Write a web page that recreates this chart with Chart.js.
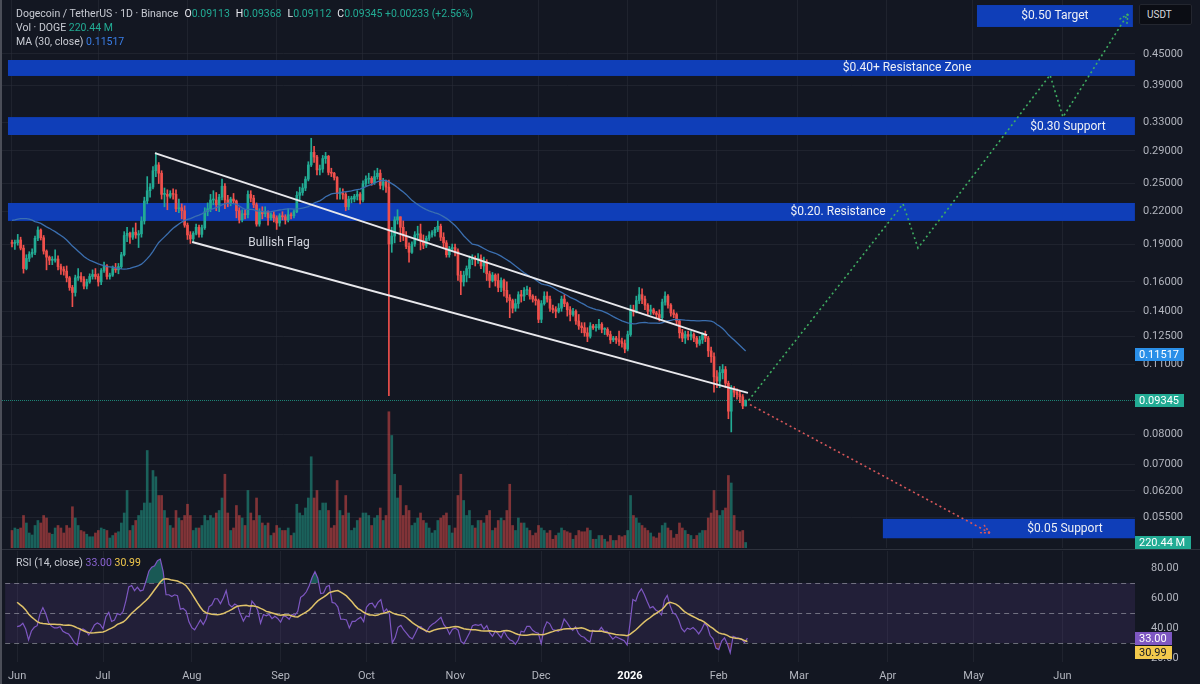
<!DOCTYPE html>
<html>
<head>
<meta charset="utf-8">
<title>Dogecoin / TetherUS 1D</title>
<script src="https://cdn.jsdelivr.net/npm/chart.js@4.4.1/dist/chart.umd.min.js"></script>
<style>
  html, body { margin: 0; padding: 0; background: #131722; }
  body { width: 1200px; height: 684px; position: relative; overflow: hidden; font-family: Roboto, "Noto Sans", sans-serif; }
  .pane { position: absolute; left: 0; width: 1200px; }
  #pricePane { top: 0; height: 550px; }
  #rsiPane { top: 550px; height: 134px; }
  .legend { position: absolute; left: 16px; font-size: 10.5px; line-height: 14px; color: #c8cbd3; white-space: nowrap; }
  .legend b { font-weight: normal; color: #e6e8ee; margin-left: 6px; }
  .up { color: #22ab94; }
  .ma { color: #3a7ee8; }
  .rsi { color: #8a63d2; }
  .rsima { color: #f2c94c; }
  #usdt { position: absolute; left: 1139px; top: 4px; width: 53px; height: 21px; box-sizing: border-box; background: #0b0d14; border: 1px solid #23262f; border-radius: 2px; color: #d6d8de; font-size: 10px; line-height: 19px; padding-left: 7px; }
  #sep { position: absolute; left: 0; top: 549px; width: 1200px; height: 1px; background: #2e323d; }
  #edge { position: absolute; left: 0; top: 0; width: 2px; height: 684px; background: #4b4e58; }
</style>
</head>
<body>
<div id="pricePane" class="pane"><canvas id="priceCanvas"></canvas></div>
<div id="rsiPane" class="pane"><canvas id="rsiCanvas"></canvas></div>
<div id="sep"></div>
<div id="edge"></div>
<div class="legend" style="top:7px">Dogecoin / TetherUS · 1D · Binance<b>O</b><span class="up">0.09113</span><b>H</b><span class="up">0.09368</span><b>L</b><span class="up">0.09112</span><b>C</b><span class="up">0.09345</span> <span class="up">+0.00233 (+2.56%)</span></div>
<div class="legend" style="top:21px">Vol · DOGE <span class="up">220.44 M</span></div>
<div class="legend" style="top:35px">MA (30, close) <span class="ma">0.11517</span></div>
<div class="legend" style="top:556px">RSI (14, close) <span class="rsi">33.00</span> <span class="rsima">30.99</span></div>
<div id="usdt">USDT</div>
<script>
// daily closes of May 2025, only used to warm up MA(30) and RSI(14)
const warmupCloses = [
  0.1800,0.1790,0.1750,0.1720,0.1700,0.1740,0.1760,0.1980,0.2080,0.2380,
  0.2280,0.2210,0.2330,0.2270,0.2180,0.2240,0.2220,0.2250,0.2200,0.2210,
  0.2290,0.2370,0.2310,0.2270,0.2300,0.2260,0.2220,0.2120,0.2050,0.1930,
  0.1910
];

// visible candles, 1 Jun 2025 (day 0) .. 11 Feb 2026 (day 255)
const closes = [
  0.1905,0.1912,0.1935,0.1865,0.1700,0.1780,0.1815,0.1830,0.1950,0.2025,
  0.1955,0.1840,0.1790,0.1765,0.1765,0.1775,0.1715,0.1695,0.1680,0.1630,
  0.1560,0.1525,0.1630,0.1640,0.1620,0.1570,0.1600,0.1640,0.1655,0.1640,
  0.1600,0.1685,0.1720,0.1640,0.1650,0.1700,0.1690,0.1715,0.1810,0.1975,
  0.1995,0.1960,0.2005,0.1980,0.1990,0.2110,0.2310,0.2420,0.2460,0.2650,
  0.2720,0.2620,0.2380,0.2380,0.2360,0.2390,0.2380,0.2230,0.2240,0.2210,
  0.2070,
  0.1980,0.1945,0.1995,0.2050,0.1985,0.2045,0.2200,0.2230,0.2320,0.2320,
  0.2270,0.2350,0.2470,0.2320,0.2290,0.2330,0.2310,0.2210,0.2120,0.2180,
  0.2170,0.2380,0.2340,0.2270,0.2080,0.2200,0.2180,0.2200,0.2140,0.2170,
  0.2140,
  0.2090,0.2160,0.2150,0.2120,0.2170,0.2160,0.2200,0.2370,0.2400,0.2450,
  0.2550,0.2720,0.2880,0.2820,0.2660,0.2670,0.2800,0.2830,0.2630,0.2620,
  0.2570,0.2390,0.2390,0.2380,0.2250,0.2330,0.2330,0.2360,0.2380,0.2320,
  0.2500,0.2550,0.2560,0.2510,0.2580,0.2620,0.2480,0.2520,0.2460,0.1900,
  0.1970,0.2120,0.2150,0.2050,0.1970,0.1880,0.1830,0.1900,0.1980,0.1990,
  0.1930,0.1890,0.1950,0.1980,0.2000,0.2030,0.2060,0.1960,0.1910,0.1810,
  0.1860,
  0.1870,0.1840,0.1650,0.1600,0.1650,0.1700,0.1770,0.1780,0.1770,0.1780,
  0.1720,0.1750,0.1660,0.1610,0.1650,0.1610,0.1560,0.1610,0.1540,0.1490,
  0.1470,0.1420,0.1450,0.1510,0.1500,0.1540,0.1540,0.1500,0.1480,0.1470,
  0.1350,0.1450,0.1500,0.1480,0.1420,0.1410,0.1400,0.1420,0.1480,0.1450,
  0.1410,0.1380,0.1400,0.1340,0.1310,0.1300,0.1270,0.1250,0.1310,0.1300,
  0.1300,0.1320,0.1290,0.1290,0.1260,0.1230,0.1240,0.1230,0.1220,0.1210,
  0.1180,
  0.1260,0.1410,0.1400,0.1470,0.1510,0.1480,0.1440,0.1400,0.1410,0.1390,
  0.1380,0.1360,0.1460,0.1500,0.1440,0.1390,0.1380,0.1340,0.1270,0.1240,
  0.1260,0.1250,0.1260,0.1240,0.1210,0.1230,0.1260,0.1240,0.1170,0.1140,
  0.1040,
  0.1020,0.1060,0.1075,0.1010,0.0890,0.0985,0.0970,0.0960,0.0950,0.09113,
  0.09345
];

const highs = [
  0.1935,0.1935,0.1985,0.1960,0.1890,0.1810,0.1835,0.1860,0.1970,0.2055,
  0.2035,0.1975,0.1850,0.1800,0.1795,0.1850,0.1800,0.1735,0.1715,0.1720,
  0.1640,0.1575,0.1650,0.1700,0.1670,0.1640,0.1620,0.1660,0.1690,0.1700,
  0.1660,0.1700,0.1750,0.1730,0.1665,0.1720,0.1740,0.1740,0.1830,0.2010,
  0.2050,0.2005,0.2045,0.2090,0.2020,0.2150,0.2350,0.2580,0.2500,0.2700,
  0.2875,0.2750,0.2650,0.2450,0.2430,0.2420,0.2440,0.2430,0.2330,0.2280,
  0.2260,
  0.2090,0.2010,0.2010,0.2080,0.2070,0.2070,0.2240,0.2290,0.2380,0.2420,
  0.2400,0.2380,0.2550,0.2500,0.2370,0.2350,0.2390,0.2320,0.2240,0.2220,
  0.2220,0.2420,0.2420,0.2370,0.2290,0.2230,0.2250,0.2250,0.2210,0.2190,
  0.2200,
  0.2160,0.2180,0.2200,0.2170,0.2230,0.2190,0.2220,0.2410,0.2460,0.2500,
  0.2580,0.2760,0.3070,0.2960,0.2840,0.2720,0.2840,0.2880,0.2840,0.2680,
  0.2630,0.2580,0.2450,0.2440,0.2400,0.2360,0.2360,0.2380,0.2420,0.2400,
  0.2530,0.2590,0.2620,0.2580,0.2650,0.2680,0.2660,0.2560,0.2540,0.2540,
  0.2050,0.2150,0.2220,0.2150,0.2110,0.2010,0.1910,0.1920,0.2010,0.2060,
  0.2080,0.1980,0.1970,0.2010,0.2020,0.2050,0.2110,0.2080,0.2000,0.1930,
  0.1880,
  0.1900,0.1900,0.1860,0.1680,0.1680,0.1720,0.1800,0.1810,0.1800,0.1820,
  0.1810,0.1790,0.1770,0.1680,0.1670,0.1660,0.1660,0.1630,0.1620,0.1600,
  0.1510,0.1480,0.1480,0.1530,0.1540,0.1560,0.1570,0.1560,0.1510,0.1500,
  0.1480,0.1470,0.1530,0.1530,0.1500,0.1440,0.1430,0.1450,0.1500,0.1510,
  0.1460,0.1430,0.1420,0.1410,0.1380,0.1330,0.1330,0.1300,0.1330,0.1320,
  0.1320,0.1350,0.1330,0.1300,0.1300,0.1280,0.1250,0.1250,0.1280,0.1240,
  0.1230,
  0.1280,0.1440,0.1440,0.1500,0.1560,0.1550,0.1500,0.1450,0.1440,0.1420,
  0.1400,0.1410,0.1480,0.1530,0.1510,0.1450,0.1410,0.1390,0.1350,0.1290,
  0.1280,0.1280,0.1280,0.1270,0.1250,0.1250,0.1270,0.1280,0.1250,0.1190,
  0.1160,
  0.1070,0.1090,0.1100,0.1090,0.1020,0.1000,0.0995,0.0985,0.0975,0.0960,
  0.09368
];

const lows = [
  0.1875,0.1855,0.1890,0.1850,0.1665,0.1690,0.1755,0.1790,0.1810,0.1930,
  0.1935,0.1815,0.1690,0.1730,0.1730,0.1750,0.1690,0.1655,0.1650,0.1600,
  0.1540,0.1430,0.1500,0.1610,0.1600,0.1550,0.1550,0.1590,0.1620,0.1620,
  0.1570,0.1580,0.1670,0.1620,0.1620,0.1640,0.1670,0.1660,0.1700,0.1800,
  0.1920,0.1905,0.1940,0.1950,0.1870,0.1960,0.2080,0.2280,0.2350,0.2440,
  0.2580,0.2500,0.2330,0.2250,0.2220,0.2340,0.2330,0.2200,0.2190,0.2130,
  0.2050,
  0.1940,0.1905,0.1920,0.1980,0.1960,0.1960,0.2030,0.2160,0.2200,0.2270,
  0.2210,0.2200,0.2320,0.2230,0.2250,0.2260,0.2290,0.2140,0.2090,0.2100,
  0.2130,0.2140,0.2300,0.2240,0.2060,0.2060,0.2130,0.2150,0.2070,0.2120,
  0.2100,
  0.2030,0.2060,0.2120,0.2080,0.2100,0.2130,0.2140,0.2190,0.2320,0.2370,
  0.2420,0.2530,0.2700,0.2750,0.2600,0.2600,0.2630,0.2740,0.2600,0.2580,
  0.2540,0.2330,0.2330,0.2330,0.2210,0.2220,0.2290,0.2300,0.2320,0.2280,
  0.2300,0.2470,0.2500,0.2480,0.2490,0.2550,0.2440,0.2430,0.2400,0.0955,
  0.1830,0.1910,0.2080,0.1920,0.1930,0.1860,0.1750,0.1820,0.1880,0.1940,
  0.1850,0.1860,0.1870,0.1930,0.1960,0.1970,0.2010,0.1930,0.1870,0.1790,
  0.1790,
  0.1840,0.1800,0.1610,0.1510,0.1570,0.1600,0.1630,0.1730,0.1720,0.1740,
  0.1700,0.1670,0.1610,0.1560,0.1600,0.1570,0.1530,0.1530,0.1500,0.1460,
  0.1360,0.1390,0.1400,0.1420,0.1460,0.1470,0.1510,0.1480,0.1460,0.1440,
  0.1330,0.1330,0.1440,0.1460,0.1400,0.1390,0.1360,0.1390,0.1400,0.1430,
  0.1370,0.1340,0.1370,0.1320,0.1290,0.1270,0.1250,0.1220,0.1240,0.1290,
  0.1280,0.1290,0.1270,0.1260,0.1250,0.1210,0.1220,0.1210,0.1200,0.1190,
  0.1160,
  0.1170,0.1250,0.1370,0.1390,0.1450,0.1450,0.1410,0.1380,0.1380,0.1380,
  0.1360,0.1340,0.1350,0.1440,0.1420,0.1370,0.1360,0.1320,0.1240,0.1220,
  0.1210,0.1230,0.1230,0.1220,0.1190,0.1200,0.1210,0.1220,0.1140,0.1110,
  0.0970,
  0.0990,0.0990,0.1030,0.0990,0.0860,0.0810,0.0950,0.0940,0.0925,0.0900,
  0.09112
];

// volume in millions of DOGE
const volumes = [
  700,800,750,800,1300,1000,600,520,900,1100,
  1000,1300,1200,600,550,800,900,800,600,900,
  800,1650,1200,900,700,650,550,450,450,600,
  700,800,750,700,400,500,600,650,1000,1400,
  2300,700,900,1100,1300,1500,1800,3900,1800,3100,
  2850,2100,2100,1500,1200,900,800,1500,1200,1100,
  1300,
  1750,1300,700,800,800,900,1300,1100,1300,1200,
  1400,1500,2000,2950,1400,700,800,1700,1300,1200,
  900,2300,1400,1100,2000,1300,1000,900,1000,500,
  600,
  900,800,700,700,800,500,600,1750,1400,1300,
  1600,2000,3650,2000,2300,1500,1800,1800,1500,800,
  900,2700,1500,1300,2100,1400,700,800,1100,1200,
  1400,1400,1300,900,1200,1300,1600,1100,1300,5450,
  4500,2950,2000,2500,1300,1700,1500,900,1000,1200,
  1400,1100,1000,800,600,700,1100,1200,1300,1400,
  900,
  600,800,2100,2950,1900,1300,1500,900,800,1100,
  1100,1000,1300,1500,700,800,1100,1200,1100,1500,
  2550,900,700,1200,1000,1000,800,700,500,600,
  900,800,700,600,700,350,500,600,800,700,
  650,600,350,500,700,650,650,800,700,350,
  350,500,500,350,250,500,300,300,500,450,
  500,
  700,2100,1300,1200,1000,900,800,700,600,450,
  400,600,900,1000,800,700,400,550,1000,800,
  700,550,500,350,500,600,700,700,1200,1400,
  2300,
  1500,1300,1500,1600,2900,2600,1300,700,650,700,
  220.44
];

// time axis (days from 1 Jun 2025)
const monthTicks = [0, 30, 61, 92, 122, 153, 183, 214, 245, 273, 304, 334, 365];
const monthLabels = ['Jun', 'Jul', 'Aug', 'Sep', 'Oct', 'Nov', 'Dec', '2026', 'Feb', 'Mar', 'Apr', 'May', 'Jun'];
const dayMin = -4.17, dayMax = 390.33;

// price axis
const priceTicks = [0.055, 0.062, 0.07, 0.08, 0.11, 0.125, 0.14, 0.16, 0.19, 0.22, 0.25, 0.29, 0.33, 0.39, 0.45];
const priceMin = 0.04784, priceMax = 0.57493;
const volMax = 21920;

// rsi pane
const rsiTicks = [20, 40, 60, 80];
const rsiLevels = [70, 50, 30];
const rsiMin = 17.33, rsiMax = 91.33;

// last values shown in the legend / axis tags
const lastClose = 0.09345, maLast = 0.11517, lastVolume = 220.44, rsiLast = 33.00, rsiMaLast = 30.99;

// drawn zones
const zoneLabels = ['$0.50 Target', '$0.40+ Resistance Zone', '$0.30 Support', '$0.20. Resistance', '$0.05 Support'];
const zoneLow = [0.5087, 0.4073, 0.3116, 0.2110, 0.0500];
const zoneHigh = [0.5620, 0.4379, 0.3380, 0.2289, 0.0546];
const zoneStart = [335.4, -1.4, -1.4, -1.4, 302.7];
const zoneEnd = [389.6, 390.3, 390.3, 390.3, 390.3];
const zoneLabelDay = [362.5, 311.1, 367, 287.1, 366];

// flag channel and projections
const flagUpperDays = [49.7, 241.6], flagUpperPrices = [0.287, 0.1257];
const flagLowerDays = [62.6, 255.8], flagLowerPrices = [0.1917, 0.0967];
const flagLabelDay = 92.8, flagLabelPrice = 0.191;
const bullPathDays = [256, 309.7, 314.9, 360.8, 365.3, 387.9];
const bullPathPrices = [0.09345, 0.2279, 0.1866, 0.409, 0.338, 0.5396];
const bearPathDays = [256.5, 339.9];
const bearPathPrices = [0.0917, 0.0512];

const FONT = 'Roboto, "Noto Sans", sans-serif';
const UP = '#22ab94', DOWN = '#f0504c';
const VOL_UP = 'rgba(34,171,148,0.5)', VOL_DOWN = 'rgba(240,80,76,0.5)';
const GRID = 'rgba(42,46,57,0.55)';
const ZONE_BLUE = '#0f3eb8';
const AXIS_TEXT = '#b2b5be';

Chart.defaults.font.family = FONT;

const W = warmupCloses.length;
const allCloses = warmupCloses.concat(closes);
const days = closes.map((_, d) => d);
// crypto trades 24/7: each daily candle opens at the previous day's close
const opens = days.map(d => allCloses[W + d - 1]);
const candleColors = days.map(d => closes[d] >= opens[d] ? UP : DOWN);

function sma(values, n) {
  return values.map((_, i) => {
    if (i < n - 1) return null;
    let s = 0;
    for (let k = i - n + 1; k <= i; k++) {
      if (values[k] == null) return null;
      s += values[k];
    }
    return s / n;
  });
}

function rsi(values, n) {
  const out = values.map(() => null);
  let g = 0, l = 0;
  for (let i = 1; i <= n; i++) {
    const ch = values[i] - values[i - 1];
    if (ch > 0) g += ch; else l -= ch;
  }
  g /= n; l /= n;
  out[n] = 100 - 100 / (1 + g / l);
  for (let i = n + 1; i < values.length; i++) {
    const ch = values[i] - values[i - 1];
    g = (g * (n - 1) + Math.max(ch, 0)) / n;
    l = (l * (n - 1) + Math.max(-ch, 0)) / n;
    out[i] = l === 0 ? 100 : 100 - 100 / (1 + g / l);
  }
  return out;
}

const ma30 = sma(allCloses, 30).slice(W);
const rsiAll = rsi(allCloses, 14);
const rsi14 = rsiAll.slice(W);
const rsiMa = sma(rsiAll, 14).slice(W);

function xAxis(extra) {
  return Object.assign({
    type: 'linear',
    min: dayMin,
    max: dayMax,
    offset: false,
    afterBuildTicks: ax => { ax.ticks = monthTicks.map(v => ({ value: v })); },
    grid: { color: GRID, drawTicks: false, offset: false },
    border: { display: false }
  }, extra);
}

// fixed-width right axis, no label overhang padding at the ends
function fitRightAxis(ax) {
  ax.width = 65;
  ax.paddingTop = 0;
  ax.paddingBottom = 0;
}

function drawTag(ctx, x, yc, text, bg, fg) {
  ctx.font = '11px ' + FONT;
  const w = Math.ceil(ctx.measureText(text).width) + 9;
  ctx.fillStyle = bg;
  ctx.fillRect(x, Math.round(yc - 6.5), w, 13);
  ctx.fillStyle = fg;
  ctx.textAlign = 'left';
  ctx.textBaseline = 'middle';
  ctx.fillText(text, x + 4, yc + 0.5);
}

// blue boxes with their captions, and the last price line
const zonePlugin = {
  id: 'zones',
  beforeDatasetsDraw(chart) {
    const { ctx, chartArea: a, scales: { x, y } } = chart;
    ctx.save();
    ctx.beginPath();
    ctx.rect(a.left, a.top, a.right - a.left, a.bottom - a.top);
    ctx.clip();
    const yp = Math.round(y.getPixelForValue(lastClose)) + 0.5;
    ctx.strokeStyle = 'rgba(34,171,148,0.75)';
    ctx.lineWidth = 1;
    ctx.setLineDash([1, 1]);
    ctx.beginPath(); ctx.moveTo(a.left, yp); ctx.lineTo(a.right, yp); ctx.stroke();
    ctx.setLineDash([]);
    zoneLabels.forEach((label, i) => {
      const x0 = x.getPixelForValue(zoneStart[i]), x1 = x.getPixelForValue(zoneEnd[i]);
      const y0 = y.getPixelForValue(zoneHigh[i]), y1 = y.getPixelForValue(zoneLow[i]);
      ctx.fillStyle = ZONE_BLUE;
      ctx.fillRect(x0, y0, x1 - x0, y1 - y0);
      ctx.fillStyle = '#eef0f5';
      ctx.font = '12px ' + FONT;
      ctx.textAlign = 'center';
      ctx.textBaseline = 'middle';
      ctx.fillText(label, x.getPixelForValue(zoneLabelDay[i]), (y0 + y1) / 2 + 0.5);
    });
    ctx.restore();
  }
};

// flag caption, arrow heads and right axis tags
const overlayPlugin = {
  id: 'overlay',
  afterDatasetsDraw(chart) {
    const { ctx, scales: { x, y } } = chart;
    ctx.save();
    ctx.fillStyle = '#d1d4dc';
    ctx.font = '12px ' + FONT;
    ctx.textAlign = 'center';
    ctx.textBaseline = 'middle';
    ctx.fillText('Bullish Flag', x.getPixelForValue(flagLabelDay), y.getPixelForValue(flagLabelPrice));
    chart.data.datasets.forEach((ds, i) => {
      if (!ds.arrowHead) return;
      const pts = chart.getDatasetMeta(i).data;
      const a = pts[pts.length - 2], b = pts[pts.length - 1];
      const ang = Math.atan2(b.y - a.y, b.x - a.x);
      ctx.strokeStyle = ds.borderColor;
      ctx.lineWidth = 1.5;
      ctx.setLineDash([2, 2]);
      [-1, 1].forEach(s => {
        ctx.beginPath();
        ctx.moveTo(b.x, b.y);
        ctx.lineTo(b.x - 10 * Math.cos(ang + s * 0.45), b.y - 10 * Math.sin(ang + s * 0.45));
        ctx.stroke();
      });
    });
    ctx.restore();
  },
  afterDraw(chart) {
    const { ctx, chartArea: a, scales: { y, yVol } } = chart;
    ctx.save();
    drawTag(ctx, a.right, y.getPixelForValue(maLast), maLast.toFixed(5), '#2a8fe8', '#ffffff');
    drawTag(ctx, a.right, y.getPixelForValue(lastClose), lastClose.toFixed(5), '#22ab94', '#ffffff');
    drawTag(ctx, a.right, yVol.getPixelForValue(lastVolume), lastVolume.toFixed(2) + ' M', '#22ab94', '#ffffff');
    ctx.restore();
  }
};

new Chart(document.getElementById('priceCanvas'), {
  type: 'line',
  data: {
    datasets: [
      {
        type: 'bar', label: 'Volume', yAxisID: 'yVol',
        data: days.map(d => ({ x: d, y: volumes[d] })),
        backgroundColor: days.map(d => closes[d] >= opens[d] ? VOL_UP : VOL_DOWN),
        barThickness: 2, grouped: false, order: 10
      },
      {
        type: 'bar', label: 'Wicks', yAxisID: 'y',
        data: days.map(d => ({ x: d, y: [lows[d], highs[d]] })),
        backgroundColor: candleColors,
        barThickness: 1, grouped: false, order: 6
      },
      {
        type: 'bar', label: 'Bodies', yAxisID: 'y',
        data: days.map(d => ({ x: d, y: [opens[d], closes[d]] })),
        backgroundColor: candleColors,
        barThickness: 2, grouped: false, minBarLength: 1, order: 5
      },
      {
        label: 'MA 30', yAxisID: 'y',
        data: days.map(d => ({ x: d, y: ma30[d] })),
        borderColor: '#3b6fb0', borderWidth: 1.3, pointRadius: 0, order: 4
      },
      {
        label: 'Flag upper', yAxisID: 'y',
        data: flagUpperDays.map((d, i) => ({ x: d, y: flagUpperPrices[i] })),
        borderColor: '#e8e8ec', borderWidth: 2, pointRadius: 0, order: 2
      },
      {
        label: 'Flag lower', yAxisID: 'y',
        data: flagLowerDays.map((d, i) => ({ x: d, y: flagLowerPrices[i] })),
        borderColor: '#e8e8ec', borderWidth: 2, pointRadius: 0, order: 2
      },
      {
        label: 'Bull path', yAxisID: 'y',
        data: bullPathDays.map((d, i) => ({ x: d, y: bullPathPrices[i] })),
        borderColor: '#3fae62', borderWidth: 1.6, borderDash: [2, 3], pointRadius: 0, arrowHead: true, order: 1
      },
      {
        label: 'Bear path', yAxisID: 'y',
        data: bearPathDays.map((d, i) => ({ x: d, y: bearPathPrices[i] })),
        borderColor: '#d8575a', borderWidth: 1.6, borderDash: [2, 3], pointRadius: 0, arrowHead: true, order: 1
      }
    ]
  },
  options: {
    responsive: true,
    maintainAspectRatio: false,
    animation: false,
    events: [],
    layout: { padding: 0 },
    plugins: { legend: { display: false }, tooltip: { enabled: false } },
    scales: {
      x: xAxis({ ticks: { display: false }, afterFit: ax => { ax.height = 2; } }),
      y: {
        type: 'logarithmic',
        position: 'right',
        min: priceMin,
        max: priceMax,
        afterBuildTicks: ax => { ax.ticks = priceTicks.map(v => ({ value: v })); },
        afterFit: fitRightAxis,
        ticks: {
          color: AXIS_TEXT, font: { size: 11 }, padding: 8, autoSkip: false,
          callback: v => Number(v).toFixed(5)
        },
        grid: { color: GRID, drawTicks: false },
        border: { display: false }
      },
      yVol: { type: 'linear', display: false, min: 0, max: volMax }
    }
  },
  plugins: [zonePlugin, overlayPlugin]
});

// RSI band, level lines and tags
const rsiPlugin = {
  id: 'rsiBand',
  beforeDatasetsDraw(chart) {
    const { ctx, chartArea: a, scales: { y } } = chart;
    ctx.save();
    const y70 = y.getPixelForValue(70), y30 = y.getPixelForValue(30);
    ctx.fillStyle = 'rgba(126,87,194,0.14)';
    ctx.fillRect(a.left, y70, a.right - a.left, y30 - y70);
    ctx.strokeStyle = 'rgba(178,181,190,0.55)';
    ctx.lineWidth = 1;
    ctx.setLineDash([5, 4]);
    rsiLevels.forEach(v => {
      const yy = Math.round(y.getPixelForValue(v)) + 0.5;
      ctx.beginPath(); ctx.moveTo(a.left, yy); ctx.lineTo(a.right, yy); ctx.stroke();
    });
    ctx.restore();
  },
  afterDraw(chart) {
    const { ctx, chartArea: a, scales: { y } } = chart;
    ctx.save();
    const y1 = y.getPixelForValue(rsiLast);
    const y2 = Math.max(y.getPixelForValue(rsiMaLast), y1 + 14);
    drawTag(ctx, a.right, y1, rsiLast.toFixed(2), '#7e57c2', '#ffffff');
    drawTag(ctx, a.right, y2, rsiMaLast.toFixed(2), '#f2c94c', '#131722');
    ctx.restore();
  }
};

new Chart(document.getElementById('rsiCanvas'), {
  type: 'line',
  data: {
    datasets: [
      {
        label: 'RSI',
        data: days.map(d => ({ x: d, y: rsi14[d] })),
        borderColor: '#7e57c2', borderWidth: 1.2, pointRadius: 0,
        fill: { target: { value: 70 }, above: 'rgba(34,171,148,0.45)', below: 'rgba(0,0,0,0)' },
        order: 2
      },
      {
        label: 'RSI oversold',
        data: days.map(d => ({ x: d, y: rsi14[d] })),
        borderColor: 'rgba(0,0,0,0)', borderWidth: 0, pointRadius: 0,
        fill: { target: { value: 30 }, above: 'rgba(0,0,0,0)', below: 'rgba(240,80,76,0.3)' },
        order: 3
      },
      {
        label: 'RSI MA',
        data: days.map(d => ({ x: d, y: rsiMa[d] })),
        borderColor: '#e0c36a', borderWidth: 1.5, pointRadius: 0, order: 1
      }
    ]
  },
  options: {
    responsive: true,
    maintainAspectRatio: false,
    animation: false,
    events: [],
    layout: { padding: { top: 1 } },
    plugins: { legend: { display: false }, tooltip: { enabled: false } },
    scales: {
      x: xAxis({
        ticks: {
          autoSkip: false, maxRotation: 0, padding: 8,
          color: c => (c.tick && c.tick.value === 214) ? '#ffffff' : AXIS_TEXT,
          font: c => ({ size: 11, weight: (c.tick && c.tick.value === 214) ? 'bold' : 'normal' }),
          callback: v => monthLabels[monthTicks.indexOf(v)]
        },
        afterFit: ax => { ax.height = 22; }
      }),
      y: {
        type: 'linear',
        position: 'right',
        min: rsiMin,
        max: rsiMax,
        afterBuildTicks: ax => { ax.ticks = rsiTicks.map(v => ({ value: v })); },
        afterFit: fitRightAxis,
        ticks: { color: AXIS_TEXT, font: { size: 11 }, padding: 8, callback: v => Number(v).toFixed(2) },
        grid: { display: false },
        border: { display: false }
      }
    }
  },
  plugins: [rsiPlugin]
});
</script>
</body>
</html>
